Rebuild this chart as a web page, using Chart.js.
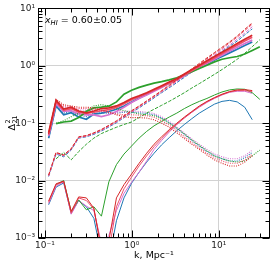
<!DOCTYPE html>
<html><head><meta charset="utf-8">
<script src="https://cdn.jsdelivr.net/npm/chart.js@4"></script>
<style>html,body{margin:0;padding:0;background:#fff;}canvas{display:block;}</style>
</head><body>
<canvas id="c" width="274" height="263"></canvas>
<script>
// ---- data ----
const kBins = [0.110, 0.134, 0.164, 0.200, 0.244, 0.299, 0.365, 0.446, 0.543, 0.664, 0.811, 0.991, 1.21, 1.48, 1.80, 2.20, 2.69, 3.29, 4.02, 4.90, 5.98, 7.31, 8.93, 10.9, 13.3, 16.3, 19.9, 24.3, 29.7];
const xTickValues = [0.1, 1, 10];
const xTickLabels = ['10\u207B\u00B9', '10\u2070', '10\u00B9'];
const yTickValues = [0.001, 0.01, 0.1, 1, 10];
const yTickLabels = ['10\u207B\u00B3', '10\u207B\u00B2', '10\u207B\u00B9', '10\u2070', '10\u00B9'];
const annotationText = ' = 0.60\u00B10.05';
const xTitle = 'k, Mpc\u207B\u00B9';

const redTotal     = [0.068, 0.25, 0.176, 0.19, 0.163, 0.152, 0.163, 0.18, 0.185, 0.20, 0.23, 0.27, 0.30, 0.34, 0.39, 0.45, 0.52, 0.60, 0.72, 0.86, 1.02, 1.22, 1.45, 1.72, 2.05, 2.45, 2.9, 3.4, null];
const crimsonTotal = [0.064, 0.235, 0.168, 0.18, 0.155, 0.148, 0.155, 0.165, 0.172, 0.188, 0.218, 0.257, 0.29, 0.33, 0.375, 0.43, 0.50, 0.58, 0.69, 0.82, 0.97, 1.15, 1.37, 1.62, 1.92, 2.28, 2.7, 3.15, null];
const violetTotal  = [0.06, 0.22, 0.16, 0.165, 0.145, 0.14, 0.14, 0.13, 0.14, 0.16, 0.19, 0.23, 0.27, 0.31, 0.36, 0.42, 0.49, 0.57, 0.67, 0.79, 0.93, 1.1, 1.3, 1.53, 1.8, 2.1, 2.45, 2.8, null];
const blueTotal    = [0.055, 0.20, 0.14, 0.152, 0.128, 0.117, 0.144, 0.15, 0.16, 0.175, 0.20, 0.235, 0.275, 0.32, 0.37, 0.43, 0.50, 0.58, 0.68, 0.80, 0.93, 1.08, 1.26, 1.45, 1.68, 1.95, 2.25, 2.6, null];
const greenTotal   = [null, 0.098, 0.105, 0.109, 0.125, 0.16, 0.185, 0.19, 0.198, 0.235, 0.32, 0.375, 0.42, 0.46, 0.50, 0.53, 0.57, 0.62, 0.70, 0.79, 0.90, 1.02, 1.17, 1.30, 1.38, 1.45, 1.6, 1.85, 2.15];

const redDash     = [0.0125, 0.031, 0.028, 0.036, 0.058, 0.061, 0.068, 0.078, 0.092, 0.11, 0.135, 0.165, 0.2, 0.245, 0.3, 0.37, 0.46, 0.57, 0.71, 0.88, 1.1, 1.37, 1.7, 2.1, 2.6, 3.3, 4.3, 5.6, null];
const crimsonDash = [0.0122, 0.0305, 0.0275, 0.0355, 0.057, 0.060, 0.067, 0.076, 0.090, 0.107, 0.131, 0.16, 0.195, 0.238, 0.29, 0.36, 0.445, 0.55, 0.69, 0.85, 1.06, 1.32, 1.63, 2.0, 2.5, 3.15, 4.1, 5.3, null];
const violetDash  = [0.0120, 0.030, 0.027, 0.035, 0.056, 0.059, 0.066, 0.075, 0.088, 0.105, 0.128, 0.157, 0.19, 0.233, 0.285, 0.35, 0.43, 0.53, 0.66, 0.81, 1.0, 1.24, 1.53, 1.88, 2.3, 2.9, 3.7, 4.8, null];
const blueDash    = [0.0118, 0.029, 0.026, 0.034, 0.055, 0.058, 0.064, 0.073, 0.086, 0.102, 0.125, 0.152, 0.185, 0.226, 0.276, 0.34, 0.415, 0.51, 0.63, 0.78, 0.96, 1.18, 1.45, 1.78, 2.18, 2.7, 3.45, 4.4, null];
const greenDash   = [null, 0.024, 0.031, 0.023, 0.032, 0.043, 0.055, 0.066, 0.075, 0.085, 0.095, 0.105, 0.125, 0.15, 0.175, 0.205, 0.24, 0.285, 0.34, 0.41, 0.49, 0.59, 0.71, 0.86, 1.05, 1.3, 1.65, 2.15, 2.85];

const redDot     = [0.065, 0.26, 0.21, 0.20, 0.19, 0.19, 0.185, 0.17, 0.155, 0.14, 0.13, 0.125, 0.125, 0.123, 0.115, 0.1, 0.085, 0.068, 0.054, 0.043, 0.035, 0.028, 0.023, 0.020, 0.018, 0.018, 0.021, 0.027, null];
const crimsonDot = [0.063, 0.25, 0.2, 0.195, 0.18, 0.18, 0.175, 0.165, 0.155, 0.145, 0.14, 0.14, 0.138, 0.135, 0.127, 0.11, 0.093, 0.074, 0.058, 0.046, 0.037, 0.03, 0.025, 0.022, 0.020, 0.020, 0.023, 0.029, null];
const violetDot  = [0.06, 0.24, 0.19, 0.19, 0.17, 0.17, 0.165, 0.16, 0.155, 0.155, 0.16, 0.163, 0.16, 0.155, 0.148, 0.13, 0.108, 0.085, 0.067, 0.053, 0.043, 0.035, 0.029, 0.026, 0.024, 0.024, 0.027, 0.034, null];
const blueDot    = [0.055, 0.2, 0.15, 0.16, 0.14, 0.13, 0.15, 0.15, 0.15, 0.15, 0.155, 0.155, 0.152, 0.148, 0.14, 0.123, 0.102, 0.081, 0.064, 0.05, 0.04, 0.032, 0.027, 0.024, 0.022, 0.022, 0.025, 0.031, null];
const greenDot   = [null, 0.1, 0.11, 0.13, 0.15, 0.165, 0.2, 0.21, 0.2, 0.18, 0.165, 0.155, 0.145, 0.14, 0.135, 0.12, 0.1, 0.082, 0.065, 0.051, 0.041, 0.033, 0.027, 0.024, 0.022, 0.021, 0.022, 0.027, 0.034];

const redThin     = [0.0044, 0.0088, 0.0098, 0.0029, 0.0052, 0.005, 0.0033, 0.0006, 0.0009, 0.005, 0.0085, 0.013, 0.02, 0.03, 0.043, 0.058, 0.077, 0.1, 0.128, 0.16, 0.2, 0.24, 0.28, 0.32, 0.355, 0.38, 0.385, 0.37, null];
const crimsonThin = [0.0042, 0.0085, 0.0096, 0.0027, 0.005, 0.0045, 0.0032, 0.0007, 0.0006, 0.0035, 0.0072, 0.0115, 0.018, 0.027, 0.039, 0.054, 0.073, 0.096, 0.124, 0.156, 0.195, 0.235, 0.275, 0.315, 0.35, 0.37, 0.37, 0.355, null];
const violetThin  = [0.0040, 0.008, 0.0095, 0.0026, 0.0045, 0.0036, 0.003, 0.0008, 0.0011, 0.003, 0.006, 0.0094, 0.014, 0.022, 0.035, 0.05, 0.07, 0.095, 0.123, 0.155, 0.19, 0.23, 0.27, 0.31, 0.345, 0.36, 0.36, 0.33, null];
const blueThin    = [0.0038, 0.0077, 0.0091, 0.0027, 0.0045, 0.0035, 0.0022, 0.0005, 0.0004, 0.002, 0.005, 0.009, 0.014, 0.021, 0.03, 0.042, 0.056, 0.074, 0.095, 0.12, 0.15, 0.18, 0.215, 0.24, 0.25, 0.235, 0.19, 0.115, null];
const greenThin   = [null, 0.0085, 0.0100, 0.0029, 0.0046, 0.0031, 0.0035, 0.0024, 0.0095, 0.019, 0.029, 0.04, 0.055, 0.072, 0.09, 0.108, 0.128, 0.15, 0.18, 0.21, 0.24, 0.27, 0.31, 0.35, 0.38, 0.395, 0.39, 0.34, 0.26];

// ---- styles ----
const COLORS = {red:'#d62728', crimson:'#ee4f6c', violet:'#d572d2', blue:'#1f77b4', green:'#2ca02c'};
const STYLES = {
  total:{borderWidth:1.7, borderDash:[]},
  dash:{borderWidth:1.0, borderDash:[3.5,1.5]},
  dot:{borderWidth:1.1, borderDash:[1,1.3]},
  thin:{borderWidth:1.0, borderDash:[]}
};
function ds(arr, color, style){
  const pts = [];
  arr.forEach((v,i)=>{ if(v!==null) pts.push({x:kBins[i], y:v}); });
  return Object.assign({data:pts, borderColor:COLORS[color], backgroundColor:COLORS[color], pointRadius:0, tension:0, fill:false}, STYLES[style]);
}
const datasets = [
  ds(redTotal,'red','total'), ds(redDash,'red','dash'), ds(redDot,'red','dot'), ds(redThin,'red','thin'),
  ds(crimsonTotal,'crimson','total'), ds(crimsonDash,'crimson','dash'), ds(crimsonDot,'crimson','dot'), ds(crimsonThin,'crimson','thin'),
  ds(greenTotal,'green','total'), ds(greenDash,'green','dash'), ds(greenDot,'green','dot'), ds(greenThin,'green','thin'),
  ds(violetTotal,'violet','total'), ds(violetDash,'violet','dash'), ds(violetDot,'violet','dot'), ds(violetThin,'violet','thin'),
  ds(blueTotal,'blue','total'), ds(blueDash,'blue','dash'), ds(blueDot,'blue','dot'), ds(blueThin,'blue','thin')
];

const FONT = '"DejaVu Sans"';
const decor = {
  id:'decor',
  afterDraw(chart){
    const {ctx, chartArea:a, scales:{x, y}} = chart;
    ctx.save();
    ctx.strokeStyle = '#000'; ctx.lineWidth = 1;
    const L = Math.round(a.left)+0.5, R = Math.round(a.right)-0.5, T = Math.round(a.top)+0.5, B = Math.round(a.bottom)-0.5;
    ctx.strokeRect(L, T, R-L, B-T);
    const minors = [2,3,4,5,6,7,8,9];
    function each(scale, cb){
      const lo = Math.floor(Math.log10(scale.min)), hi = Math.ceil(Math.log10(scale.max));
      for(let e=lo; e<=hi; e++){
        const b = Math.pow(10,e);
        if(b>=scale.min*0.999 && b<=scale.max*1.001) cb(b, true);
        minors.forEach(m=>{ const v=m*b; if(v>=scale.min && v<=scale.max) cb(v,false); });
      }
    }
    ctx.beginPath();
    each(x, (v, major)=>{
      const px = Math.round(x.getPixelForValue(v))+0.5, len = major?7:4;
      ctx.moveTo(px, B); ctx.lineTo(px, B-len);
      ctx.moveTo(px, T); ctx.lineTo(px, T+len);
    });
    each(y, (v, major)=>{
      const py = Math.round(y.getPixelForValue(v))+0.5, len = major?7:4;
      ctx.moveTo(L, py); ctx.lineTo(L+len, py);
      ctx.moveTo(R, py); ctx.lineTo(R-len, py);
    });
    ctx.stroke();
    // annotation
    ctx.fillStyle = '#000'; ctx.textBaseline = 'alphabetic'; ctx.textAlign = 'left';
    let xp = a.left + 7, yp = a.top + 14.5;
    ctx.font = 'italic 9.5px ' + FONT; ctx.fillText('x', xp, yp); xp += ctx.measureText('x').width;
    ctx.font = 'italic 6.8px ' + FONT; ctx.fillText('HI', xp, yp + 2.5); xp += ctx.measureText('HI').width;
    ctx.font = '9.5px ' + FONT; ctx.fillText(annotationText, xp, yp);
    // x title
    ctx.textAlign = 'center';
    ctx.font = '9.5px ' + FONT;
    ctx.fillText(xTitle, (a.left + a.right)/2, 258);
    // y title
    ctx.save();
    ctx.translate(14.5, (a.top + a.bottom)/2);
    ctx.rotate(-Math.PI/2);
    ctx.textAlign = 'left';
    ctx.font = '9.5px ' + FONT;
    const dw = ctx.measureText('\u0394').width;
    ctx.font = '6.5px ' + FONT;
    const sw = ctx.measureText('21').width;
    const start = -(dw + sw)/2;
    ctx.font = '9.5px ' + FONT; ctx.fillText('\u0394', start, 0);
    ctx.font = '6.5px ' + FONT; ctx.fillText('2', start + dw + 0.5, -4.5); ctx.fillText('21', start + dw + 0.5, 2.5);
    ctx.restore();
    ctx.restore();
  }
};

new Chart(document.getElementById('c'), {
  type:'line',
  data:{datasets},
  options:{
    responsive:false, animation:false, devicePixelRatio:1,
    layout:{padding:{left:0, right:4, top:6, bottom:0}},
    plugins:{legend:{display:false}, tooltip:{enabled:false}},
    scales:{
      x:{type:'logarithmic', min:0.083, max:38.9,
        afterBuildTicks:(s)=>{ s.ticks = xTickValues.map(v=>({value:v})); },
        afterFit:(s)=>{ s.height = 25; },
        ticks:{autoSkip:false, maxRotation:0, padding:2, color:'#222', font:{family:'DejaVu Sans', size:9},
          callback:(v)=>{ const i = xTickValues.indexOf(v); return i>=0 ? xTickLabels[i] : ''; }},
        grid:{color:'#d2d2d2', lineWidth:1, drawTicks:false}, border:{display:false}},
      y:{type:'logarithmic', min:0.001, max:10,
        afterBuildTicks:(s)=>{ s.ticks = yTickValues.map(v=>({value:v})); },
        afterFit:(s)=>{ s.width = 38; },
        ticks:{autoSkip:false, padding:3, color:'#222', font:{family:'DejaVu Sans', size:9},
          callback:(v)=>{ const i = yTickValues.indexOf(v); return i>=0 ? yTickLabels[i] : ''; }},
        grid:{color:'#d2d2d2', lineWidth:1, drawTicks:false}, border:{display:false}}
    }
  },
  plugins:[decor]
});
</script>
</body></html>
